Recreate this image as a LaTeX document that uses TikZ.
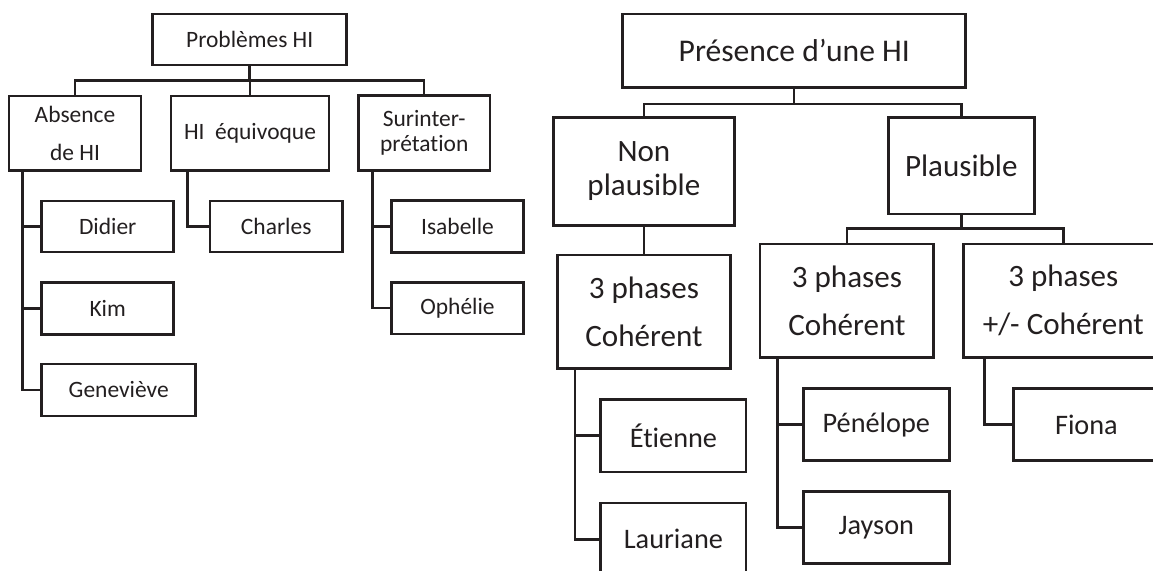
\documentclass[tikz,border=0pt]{standalone}
\usepackage{fontspec}
\setmainfont{Carlito}[Ligatures=NoCommon]
\definecolor{ink}{HTML}{231F20}
\newcommand\ftSz[2]{\fontsize{#1pt}{#2pt}\selectfont}
\tikzset{
  box/.style={draw=ink, line width=1.9pt, text=ink, inner sep=0pt, align=center},
  sz/.style 2 args={minimum width=#1*0.75pt, minimum height=#2*0.75pt},
  conn/.style={draw=ink, line width=1.9pt},
  fL/.style={font=\ftSz{17.6}{21}},
  fT/.style={font=\ftSz{23.7}{28}},
  fC/.style={font=\ftSz{23.3}{36}},
  fN/.style={font=\ftSz{21.2}{25}},
}
\begin{document}
\begin{tikzpicture}[x=0.75pt,y=-0.75pt]
\useasboundingbox (0,0) rectangle (1153,571);
\clip (0,0) rectangle (1153,571);
% ---------- left tree ----------
\node[box,sz={194}{51},fL] (P) at (249.7,39.5) {Problèmes HI};
\node[box,sz={132}{74.7},font=\ftSz{17.6}{29}] (A) at (75,133.4) {Absence\\de HI};
\node[box,sz={158}{74.7},fL] (E) at (250,133.4) {HI~~équivoque};
\node[box,sz={131.7}{75},font=\ftSz{17.6}{18.8}] (S) at (424.2,133) {Surinter-\\prétation};
\node[box,sz={132}{51},fL] (Did) at (107.7,226.5) {Didier};
\node[box,sz={132}{51.6},fL] (Kim) at (107.7,308.5) {Kim};
\node[box,sz={154}{52},fL] (Gen) at (118.7,390) {Geneviève};
\node[box,sz={132.3}{51},fL] (Cha) at (276.2,226.5) {Charles};
\node[box,sz={131.6}{51.6},fL] (Isa) at (457.5,226.5) {Isabelle};
\node[box,sz={131.6}{51.7},fL] (Oph) at (457.5,308.2) {Ophélie};
\coordinate (busL) at (0,80.7);
\coordinate (sA) at (22.7,0);
\coordinate (sE) at (187.3,0);
\coordinate (sS) at (372.3,0);
\draw[conn] (P.south) -- (P.south |- busL) -| (A.north);
\draw[conn] (P.south |- busL) -| (S.north);
\draw[conn] (E.north) -- (E.north |- busL);
\draw[conn] (sA |- A.south) |- (Gen.west);
\draw[conn] (sA |- Did.west) -- (Did.west);
\draw[conn] (sA |- Kim.west) -- (Kim.west);
\draw[conn] (sE |- E.south) |- (Cha.west);
\draw[conn] (sS |- S.south) |- (Oph.west);
\draw[conn] (sS |- Isa.west) -- (Isa.west);
% ---------- right tree ----------
\node[box,sz={343}{73.3},fT] (T) at (794.2,50.7) {Présence d’une HI};
\node[box,sz={180.8}{107.9},font=\ftSz{23.3}{25.5}] (NP) at (643.9,171.3) {Non\\plausible};
\node[box,sz={146}{96.7},fC] (PL) at (961.3,165.7) {Plausible};
\node[box,sz={172.7}{113.7},fC] (C1) at (643.9,311.9) {3 phases\\Cohérent};
\node[box,sz={173.6}{113.3},fC] (C2) at (846.9,300.7) {3 phases\\Cohérent};
\node[box,sz={200}{113.3},fC] (C3) at (1063.3,300.7) {3 phases\\+/- Cohérent};
\node[box,sz={145.3}{72.7},fN] (Eti) at (673.4,435.7) {Étienne};
\node[box,sz={145.3}{72.7},fN] (Lau) at (673.4,539.3) {Lauriane};
\node[box,sz={146.1}{72.4},fN] (Pen) at (876.3,424.5) {Pénélope};
\node[box,sz={146.1}{71.6},fN] (Jay) at (876.3,527.5) {Jayson};
\node[box,sz={146.1}{72.4},fN] (Fio) at (1086.4,424.5) {Fiona};
\coordinate (busR) at (0,104);
\coordinate (busP) at (0,228.7);
\coordinate (sC1) at (575.2,0);
\coordinate (sC2) at (777.5,0);
\coordinate (sC3) at (984.3,0);
\draw[conn] (T.south) -- (T.south |- busR) -| (NP.north);
\draw[conn] (T.south |- busR) -| (PL.north);
\draw[conn] (NP.south) -- (C1.north);
\draw[conn] (PL.south) -- (PL.south |- busP) -| (C2.north);
\draw[conn] (PL.south |- busP) -| (C3.north);
\draw[conn] (sC1 |- C1.south) |- (Lau.west);
\draw[conn] (sC1 |- Eti.west) -- (Eti.west);
\draw[conn] (sC2 |- C2.south) |- (Jay.west);
\draw[conn] (sC2 |- Pen.west) -- (Pen.west);
\draw[conn] (sC3 |- C3.south) |- (Fio.west);
\end{tikzpicture}
\end{document}
